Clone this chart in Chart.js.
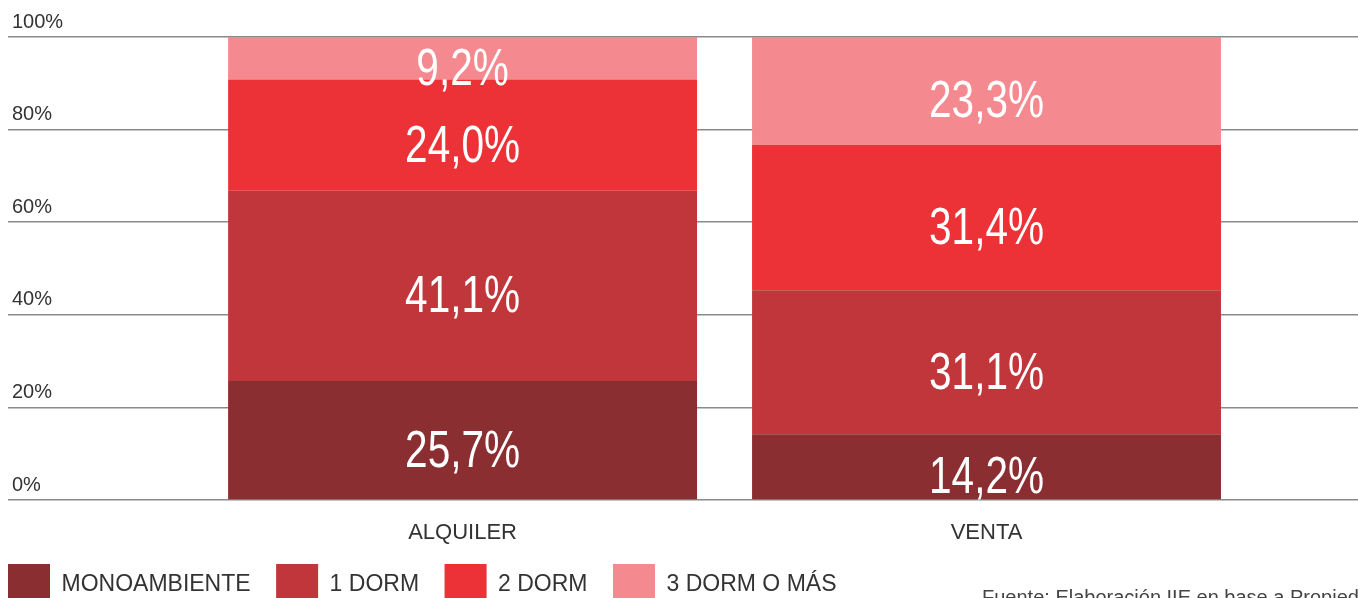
<!DOCTYPE html>
<html>
<head>
<meta charset="utf-8">
<script src="https://cdn.jsdelivr.net/npm/chart.js@4.4.1/dist/chart.umd.min.js"></script>
<style>
html,body{margin:0;padding:0;overflow:hidden;background:#fff;width:1358px;height:598px;}
#wrap{position:absolute;left:0;top:0;width:1358px;height:616px;}
#note{position:absolute;left:982px;top:587px;font:20px/20px 'Liberation Sans',Arial,sans-serif;color:#444;white-space:nowrap;}
</style>
</head>
<body>
<div id="wrap"><canvas id="c" width="1358" height="616"></canvas></div>
<div id="note">Fuente: Elaboración IIE en base a Propiedades</div>
<script>
// ---- data ----
const categories = ['ALQUILER', 'VENTA'];
const seriesNames = ['MONOAMBIENTE', '1 DORM', '2 DORM', '3 DORM O MÁS'];
const monoambiente = [25.7, 14.2];
const dorm1 = [41.1, 31.1];
const dorm2 = [24.0, 31.4];
const dorm3 = [9.2, 23.3];
const yTicks = [0, 20, 40, 60, 80, 100];

// ---- styles ----
const colors = ['#8B2E32', '#C1363B', '#EC3137', '#F48A8F'];
const FONT = "'Liberation Sans', Arial, Helvetica, sans-serif";

const seriesValues = [monoambiente, dorm1, dorm2, dorm3];
const datasets = seriesNames.map((name, k) => ({
  label: name,
  data: categories.map((c, i) => ({ x: i, y: seriesValues[k][i] })),
  backgroundColor: colors[k],
  borderWidth: 0,
  barPercentage: 1,
  categoryPercentage: 0.895
}));

const segLabels = {
  id: 'segLabels',
  afterDatasetsDraw(chart) {
    const ctx = chart.ctx;
    ctx.save();
    ctx.font = "52px 'Liberation Sans Narrow', 'Liberation Sans', Arial, sans-serif";
    const sx = 115 / ctx.measureText('25,7%').width;
    ctx.fillStyle = '#ffffff';
    ctx.textAlign = 'center';
    ctx.textBaseline = 'alphabetic';
    chart.data.datasets.forEach((ds, di) => {
      const meta = chart.getDatasetMeta(di);
      meta.data.forEach((bar, i) => {
        const v = ds.data[i].y;
        const p = bar.getProps(['x', 'y', 'base'], true);
        const cy = (p.y + p.base) / 2 + 8 + 18.5;
        ctx.save();
        ctx.translate(p.x, cy);
        ctx.scale(sx, 1);
        ctx.fillText(v.toFixed(1).replace('.', ',') + '%', 0, 0);
        ctx.restore();
      });
    });
    ctx.restore();
  }
};

Chart.defaults.font.family = FONT;

new Chart(document.getElementById('c'), {
  type: 'bar',
  data: { datasets },
  options: {
    responsive: false,
    animation: false,
    devicePixelRatio: 1,
    layout: { padding: { top: 37, left: -6, right: 0, bottom: 0 } },
    scales: {
      x: {
        type: 'linear',
        offset: false,
        stacked: true,
        min: -0.8676,
        max: 1.709,
        afterBuildTicks: ax => { ax.ticks = categories.map((c, i) => ({ value: i })); },
        afterFit: s => { s.height = 50; },
        grid: { display: false, offset: false },
        border: { display: false },
        ticks: {
          autoSkip: false,
          maxRotation: 0,
          padding: 12,
          color: '#333',
          font: { size: 22 },
          callback: v => categories[v] !== undefined ? categories[v] : ''
        }
      },
      y: {
        stacked: true,
        min: 0,
        max: 100,
        afterBuildTicks: ax => { ax.ticks = yTicks.map(v => ({ value: v })); },
        afterFit: s => { s.width = 14; },
        grid: { color: '#8a8a8a', lineWidth: 1.5, drawTicks: false },
        border: { display: false },
        ticks: {
          mirror: true,
          padding: 4,
          labelOffset: -15,
          color: '#333',
          font: { size: 20 },
          callback: v => v + '%'
        }
      }
    },
    plugins: {
      legend: {
        position: 'bottom',
        align: 'start',
        labels: {
          boxWidth: 42,
          boxHeight: 42,
          padding: 14,
          color: '#333',
          font: { size: 23 },
          generateLabels: chart => Chart.defaults.plugins.legend.labels.generateLabels(chart)
            .map(item => Object.assign(item, { text: item.text + '\u2002' }))
        }
      },
      tooltip: { enabled: false }
    }
  },
  plugins: [segLabels]
});
</script>
</body>
</html>
